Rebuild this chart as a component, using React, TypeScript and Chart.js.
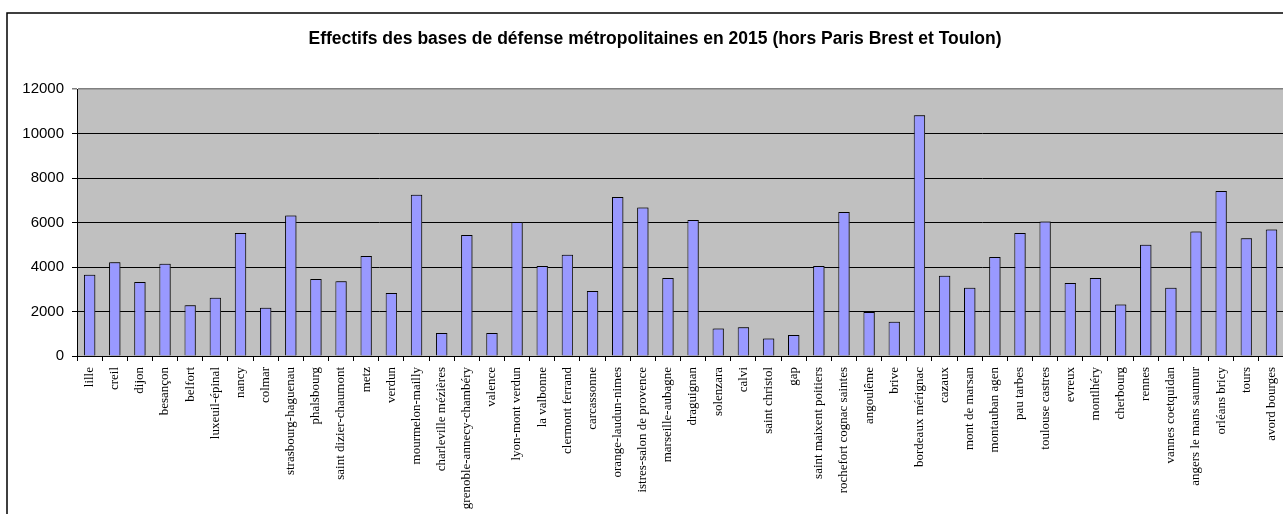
import React, { useEffect, useRef } from "react";
import { Chart, registerables } from "chart.js";

Chart.register(...registerables);

const TITLE = "Effectifs des bases de défense métropolitaines en 2015 (hors Paris Brest et Toulon)";

const categories = [
  "lille", "creil", "dijon", "besançon", "belfort", "luxeuil-épinal", "nancy", "colmar",
  "strasbourg-haguenau", "phalsbourg", "saint dizier-chaumont", "metz", "verdun", "mourmelon-mailly",
  "charleville mézières", "grenoble-annecy-chambéry", "valence", "lyon-mont verdun", "la valbonne",
  "clermont ferrand", "carcassonne", "orange-laudun-nimes", "istres-salon de provence",
  "marseille-aubagne", "draguignan", "solenzara", "calvi", "saint christol", "gap",
  "saint maixent poitiers", "rochefort cognac saintes", "angoulême", "brive", "bordeaux mérignac",
  "cazaux", "mont de marsan", "montauban agen", "pau tarbes", "toulouse castres", "evreux",
  "montlhéry", "cherbourg", "rennes", "vannes coetquidan", "angers le mans saumur", "orléans bricy",
  "tours", "avord bourges",
];

const effectifs = [
  3650, 4210, 3330, 4150, 2280, 2620, 5530, 2170,
  6320, 3460, 3360, 4490, 2830, 7250,
  1030, 5440, 1030, 6020, 4050,
  4550, 2920, 7150, 6670,
  3510, 6110, 1240, 1290, 790, 940,
  4050, 6470, 1980, 1540, 10820,
  3610, 3070, 4450, 5530, 6040, 3280,
  3510, 2320, 5000, 3070, 5590, 7420,
  5290, 5680,
];

const yMin = 0;
const yMax = 12000;
const yStep = 2000;

const CANVAS_W = 1300;
const CANVAS_H = 514;

export default function App() {
  const ref = useRef<HTMLCanvasElement | null>(null);

  useEffect(() => {
    const canvas = ref.current;
    if (!canvas) return;

    const background = {
      id: "bgAndFrame",
      beforeDraw(chart: any) {
        const { ctx, chartArea } = chart;
        ctx.save();
        ctx.fillStyle = "#ffffff";
        ctx.fillRect(0, 0, chart.width, chart.height);
        ctx.strokeStyle = "#000000";
        ctx.lineWidth = 1.5;
        ctx.strokeRect(7, 13, chart.width + 20, chart.height + 20);
        ctx.fillStyle = "#c0c0c0";
        ctx.fillRect(chartArea.left, chartArea.top, chartArea.right - chartArea.left, chartArea.bottom - chartArea.top);
        ctx.fillStyle = "#000000";
        ctx.font = "bold 17.5px 'Liberation Sans', Arial, sans-serif";
        ctx.textAlign = "center";
        ctx.textBaseline = "alphabetic";
        ctx.fillText(TITLE, 655, 44);
        ctx.restore();
      },
      beforeDatasetsDraw(chart: any) {
        const ctx = chart.ctx;
        ctx.save();
        ctx.shadowColor = "rgba(60,60,60,0.8)";
        ctx.shadowOffsetX = 1.5;
        ctx.shadowOffsetY = 0;
        ctx.shadowBlur = 0;
      },
      afterDatasetsDraw(chart: any) {
        chart.ctx.restore();
      },
    };

    const chart = new Chart(canvas, {
      type: "bar",
      data: {
        labels: categories,
        datasets: [
          {
            data: effectifs,
            backgroundColor: "#9999ff",
            borderColor: "#000000",
            borderWidth: 1,
            barPercentage: 0.45,
            categoryPercentage: 1,
          },
        ],
      },
      options: {
        animation: false,
        responsive: false,
        devicePixelRatio: 1,
        layout: { padding: { left: 0, right: 16, top: 89, bottom: 0 } },
        plugins: {
          legend: { display: false },
          tooltip: { enabled: false },
          title: { display: false },
        },
        scales: {
          x: {
            type: "category",
            offset: true,
            grid: {
              offset: true,
              drawOnChartArea: false,
              drawTicks: true,
              tickLength: 5,
              color: "#000000",
            },
            border: { display: true, color: "#000000", width: 1 },
            ticks: {
              autoSkip: false,
              minRotation: 90,
              maxRotation: 90,
              padding: 6,
              color: "#000000",
              font: { family: "'Liberation Serif', 'Times New Roman', serif", size: 13 },
            },
            afterFit(scale: any) {
              scale.height = 158;
            },
          },
          y: {
            type: "linear",
            min: yMin,
            max: yMax,
            grid: {
              color: (c: any) => (c.tick && c.tick.value === yMax ? "#808080" : "#000000"),
              lineWidth: (c: any) => (c.tick && c.tick.value === yMax ? 1.5 : 1),
              tickLength: 5,
              drawTicks: true,
            },
            border: { display: true, color: "#000000", width: 1 },
            ticks: {
              stepSize: yStep,
              padding: 8,
              color: "#000000",
              font: { family: "'Liberation Sans', Arial, sans-serif", size: 15 },
              callback: (v: any) => String(v),
            },
            afterFit(scale: any) {
              scale.width = 77;
            },
          },
        },
      },
      plugins: [background],
    });

    return () => {
      chart.destroy();
    };
  }, []);

  return (
    <div
      style={{
        position: "fixed",
        left: 0,
        top: 0,
        width: 1283,
        height: 514,
        overflow: "hidden",
        background: "#ffffff",
      }}
    >
      <canvas ref={ref} width={CANVAS_W} height={CANVAS_H} style={{ display: "block", width: CANVAS_W, height: CANVAS_H }} />
    </div>
  );
}
